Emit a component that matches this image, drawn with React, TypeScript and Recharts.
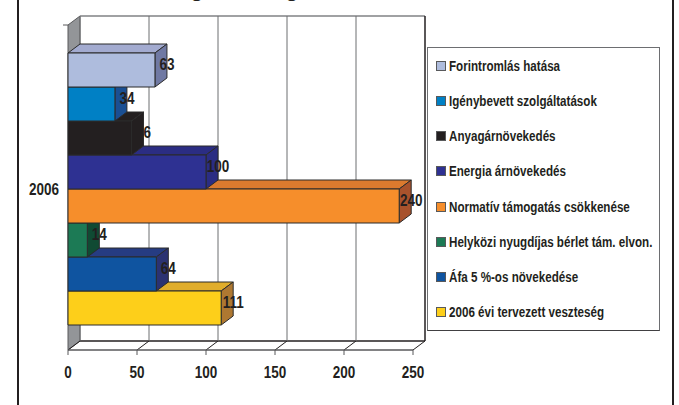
import React from 'react';
import { BarChart, Bar, XAxis, YAxis, LabelList, Legend, CartesianGrid } from 'recharts';

const category = '2006';
const seriesNames = [
  'Forintromlás hatása',
  'Igénybevett szolgáltatások',
  'Anyagárnövekedés',
  'Energia árnövekedés',
  'Normatív támogatás csökkenése',
  'Helyközi nyugdíjas bérlet tám. elvon.',
  'Áfa 5 %-os növekedése',
  '2006 évi tervezett veszteség',
];
const seriesValues = [63, 34, 46, 100, 240, 14, 64, 111];
const frontColors = ['#aebcdd', '#0080c5', '#231f20', '#2e3192', '#f68e2b', '#1c7a55', '#0f54a0', '#fdcf1a'];
const topColors = ['#a3abd0', '#0080c5', '#231f20', '#2b2d83', '#db7a2e', '#1c7a55', '#263c82', '#e0ad2b'];
const sideColors = ['#7079a3', '#1a4f93', '#231f20', '#2b2d83', '#a8522c', '#104a33', '#2b3272', '#ae7831'];
const xTicks = [0, 50, 100, 150, 200, 250];

const row: Record<string, string | number> = { name: category };
seriesNames.forEach((n, i) => { row[n] = seriesValues[i]; });
const data = [row];

// Upper bars overlap lower ones, so series are painted bottom-up and mirrored about the band's centre.
const paintOrder = seriesNames.map((_, i) => seriesNames.length - 1 - i);

const DX = 12;
const DY = -9;
const PLOT_TOP = 27;
const PLOT_BOTTOM = 350;
const MID = (PLOT_TOP + PLOT_BOTTOM) / 2;
const SQUEEZE = 0.82;
const FONT = '"Liberation Sans", Arial, sans-serif';
const INK = '#231f20';

const Narrow = ({ x, y, anchor, children }: any) => (
  <text
    transform={`translate(${x},${y}) scale(${SQUEEZE},1)`}
    textAnchor={anchor}
    fontFamily={FONT}
    fontWeight={700}
    fontSize={16.5}
    fill={INK}
  >
    {children}
  </text>
);

const Box = (i: number) => (p: any) => {
  const { x, width: w, height: h } = p;
  const y = 2 * MID - p.y - h;
  const stroke = '#2b2b2b';
  return (
    <g stroke={stroke} strokeWidth={1} strokeLinejoin="round">
      <path d={`M${x},${y}L${x + DX},${y + DY}L${x + w + DX},${y + DY}L${x + w},${y}Z`} fill={topColors[i]} />
      <path d={`M${x + w},${y}L${x + w + DX},${y + DY}L${x + w + DX},${y + h + DY}L${x + w},${y + h}Z`} fill={sideColors[i]} />
      <rect x={x} y={y} width={w} height={h} fill={frontColors[i]} />
    </g>
  );
};

const BarValue = (p: any) => {
  const b = p.viewBox ?? p;
  const cy = 2 * MID - (b.y + b.height / 2);
  return (
    <Narrow x={b.x + b.width + DX} y={cy} anchor="middle">
      {p.value}
    </Narrow>
  );
};

const XTick = ({ x, y, payload }: any) => (
  <Narrow x={x} y={y + 15} anchor="middle">
    {payload.value}
  </Narrow>
);

const YTick = ({ x, y, payload }: any) => (
  <Narrow x={x} y={y + 6} anchor="end">
    {payload.value}
  </Narrow>
);

const GridLine = (p: any) => {
  const { x1, y1, y2, index } = p;
  const top = Math.min(y1, y2) - 2;
  const bottom = Math.max(y1, y2);
  const last = index === xTicks.length - 1;
  return (
    <g fill="none">
      {index === 0 && (
        <>
          <path d={`M${x1},${top}L${x1 + DX},${top + DY}L${x1 + DX},${bottom + DY}L${x1},${bottom}Z`} fill="#939598" stroke="#58595b" />
          <line x1={x1 + DX} y1={top + DY} x2={x1 + 345 + DX} y2={top + DY} stroke="#808285" strokeWidth={1.5} />
          <line x1={x1 + DX} y1={bottom + DY} x2={x1 + 345 + DX} y2={bottom + DY} stroke={INK} strokeWidth={1.5} />
          <line x1={x1 - 5} y1={top} x2={x1} y2={top} stroke="#58595b" />
        </>
      )}
      <line
        x1={x1 + DX}
        y1={top + DY}
        x2={x1 + DX}
        y2={bottom + DY}
        stroke={last ? INK : '#6d6e71'}
        strokeWidth={last ? 1.5 : 1}
      />
      <line x1={x1} y1={bottom} x2={x1 + DX} y2={bottom + DY} stroke={INK} />
    </g>
  );
};

const LegendBox = ({ payload }: any) => {
  const items = [...(payload || [])].reverse();
  return (
    <div
      style={{
        boxSizing: 'border-box',
        width: 233,
        height: 284,
        border: '1.5px solid #6d6e71',
        borderBottomColor: '#414042',
        background: '#fff',
        display: 'flex',
        flexDirection: 'column',
        justifyContent: 'space-around',
        padding: '0 0 0 8px',
      }}
    >
      {items.map((e: any) => (
        <div key={e.value} style={{ display: 'flex', alignItems: 'center', height: 20, whiteSpace: 'nowrap' }}>
          <span
            style={{
              boxSizing: 'border-box',
              width: 10,
              height: 10,
              border: '1px solid #58595b',
              background: frontColors[seriesNames.indexOf(e.value)],
              marginRight: 3,
              flex: 'none',
            }}
          />
          <span
            style={{
              display: 'inline-block',
              transform: 'scaleX(0.83)',
              transformOrigin: 'left center',
              fontFamily: FONT,
              fontWeight: 700,
              fontSize: 14,
              color: INK,
            }}
          >
            {e.value}
          </span>
        </div>
      ))}
    </div>
  );
};

export default function App() {
  return (
    <div style={{ position: 'absolute', left: 0, top: 0, width: 679, height: 405, background: '#fff', overflow: 'hidden' }}>
      <div style={{ position: 'absolute', left: 17, top: 0, width: 2, height: 405, background: INK }} />
      <div style={{ position: 'absolute', left: 672, top: 0, width: 2, height: 405, background: INK }} />
      <BarChart
        width={679}
        height={405}
        data={data}
        layout="vertical"
        barCategoryGap={25}
        barGap={0}
        margin={{ top: PLOT_TOP, right: 266, bottom: 0, left: 18 }}
        style={{ position: 'absolute', left: 0, top: 0 }}
      >
        <CartesianGrid horizontal={false} vertical={GridLine as any} />
        <XAxis
          type="number"
          domain={[0, 250]}
          ticks={xTicks}
          interval={0}
          height={55}
          axisLine={{ stroke: '#58595b', strokeWidth: 1.5 }}
          tickLine={{ stroke: '#58595b' }}
          tickSize={5}
          tickMargin={8}
          tick={XTick as any}
        />
        <YAxis
          type="category"
          dataKey="name"
          width={50}
          axisLine={false}
          tickLine={false}
          tickMargin={3}
          tick={YTick as any}
        />
        {paintOrder.map((i) => (
          <Bar key={seriesNames[i]} dataKey={seriesNames[i]} fill={frontColors[i]} shape={Box(i)} isAnimationActive={false}>
            <LabelList dataKey={seriesNames[i]} content={BarValue as any} />
          </Bar>
        ))}
        <Legend
          content={LegendBox as any}
          layout="vertical"
          align="center"
          verticalAlign="middle"
          itemSorter={null as any}
          wrapperStyle={{ position: 'absolute', left: 427, top: 47, width: 233, height: 284 }}
        />
        <text x={197} y={-4} textAnchor="middle" fontFamily={FONT} fontWeight={700} fontSize={22} fill={INK}>g</text>
        <text x={292} y={-4} textAnchor="middle" fontFamily={FONT} fontWeight={700} fontSize={22} fill={INK}>g</text>
      </BarChart>
    </div>
  );
}
